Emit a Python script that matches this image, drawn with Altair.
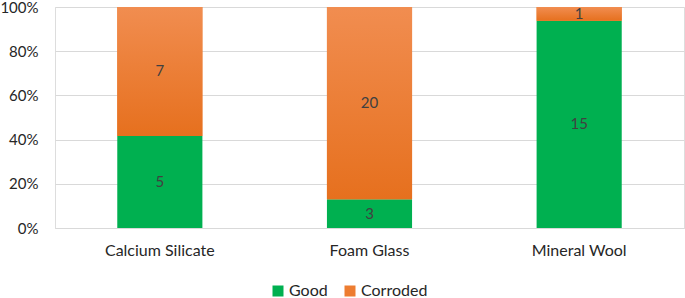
import altair as alt
import pandas as pd

categories = ["Calcium Silicate", "Foam Glass", "Mineral Wool"]
good = [5, 3, 15]
corroded = [7, 20, 1]
series = ["Good", "Corroded"]
colors = ["#00B050", "#ED7D31"]

rows = []
for c, g, r in zip(categories, good, corroded):
    rows.append({"cat": c, "status": "Good", "n": g, "order": 0})
    rows.append({"cat": c, "status": "Corroded", "n": r, "order": 1})
df = pd.DataFrame(rows)

FONT = "Lato"

base = alt.Chart(df).transform_stack(
    stack="n", groupby=["cat"], as_=["y0", "y1"], offset="normalize",
    sort=[alt.SortField("order", order="ascending")]
).transform_calculate(mid="(datum.y0 + datum.y1) / 2")

x_enc = alt.X("cat:N", sort=categories, title=None,
              scale=alt.Scale(paddingInner=0.594, paddingOuter=0.297),
              axis=alt.Axis(labelAngle=0, ticks=False, domain=True, domainColor="#D9D9D9",
                            labelFont=FONT, labelFontSize=16, labelColor="#262626",
                            labelPadding=14))
y_scale = alt.Scale(domain=[0, 1])

bars = base.mark_bar().encode(
    x=x_enc,
    y=alt.Y("y0:Q", scale=y_scale, title=None,
            axis=alt.Axis(format="%", values=[0, 0.2, 0.4, 0.6, 0.8, 1.0], ticks=False, domain=False,
                          gridColor="#D9D9D9", labelFont=FONT, labelFontSize=15,
                          labelColor="#262626", labelPadding=17)),
    y2="y1:Q",
    color=alt.Color("status:N", sort=series,
                    scale=alt.Scale(domain=series, range=colors),
                    legend=alt.Legend(title=None, orient="none", direction="horizontal",
                                      legendX=215, legendY=276, symbolType="square",
                                      symbolSize=121, symbolStrokeWidth=0,
                                      labelFont=FONT, labelFontSize=16, labelColor="#262626",
                                      columnPadding=14, labelOffset=3)),
)

gradient = {
    "gradient": "linear", "x1": 0, "y1": 0, "x2": 0, "y2": 1,
    "stops": [{"offset": 0, "color": "#F18D50"}, {"offset": 1, "color": "#E6701E"}],
}

orange = base.transform_filter(alt.datum.status == "Corroded").mark_bar(fill=gradient).encode(
    x=alt.X("cat:N", sort=categories),
    y=alt.Y("y0:Q", scale=y_scale),
    y2="y1:Q",
)

labels = base.mark_text(font=FONT, fontSize=15, color="#404040", baseline="middle").encode(
    x=alt.X("cat:N", sort=categories),
    y=alt.Y("mid:Q", scale=y_scale),
    text="n:Q",
)

chart = alt.layer(bars, orange, labels).properties(
    width=629, height=221,
    autosize=alt.AutoSizeParams(type="none"),
    padding={"left": 55, "top": 7, "right": 1, "bottom": 70},
).configure_view(stroke=None).configure(background="white")

chart.save("out.html", embed_options={"renderer": "svg", "actions": False})
